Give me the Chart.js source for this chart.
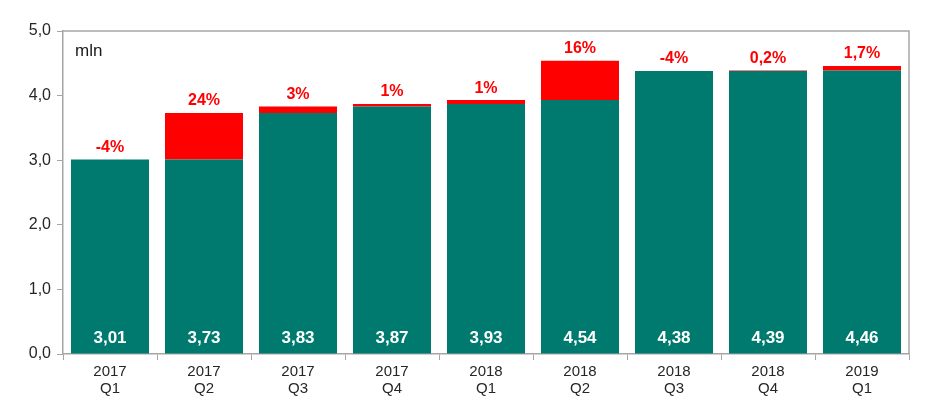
<!DOCTYPE html>
<html><head><meta charset="utf-8">
<script src="https://cdn.jsdelivr.net/npm/chart.js@4/dist/chart.umd.min.js"></script>
<style>html,body{margin:0;padding:0;background:#fff;}#wrap{width:945px;height:410px;}</style>
</head><body><div id="wrap"><canvas id="c" width="945" height="410"></canvas></div>
<script>
const categories = [["2017","Q1"],["2017","Q2"],["2017","Q3"],["2017","Q4"],["2018","Q1"],["2018","Q2"],["2018","Q3"],["2018","Q4"],["2019","Q1"]];
const baseValues = [3.01, 3.01, 3.73, 3.83, 3.87, 3.93, 4.38, 4.38, 4.39];
const increaseValues = [0, 0.72, 0.10, 0.04, 0.06, 0.61, 0, 0.01, 0.07];
const totalLabels = ["3,01","3,73","3,83","3,87","3,93","4,54","4,38","4,39","4,46"];
const changeLabels = ["-4%","24%","3%","1%","1%","16%","-4%","0,2%","1,7%"];
const yTicks = [0,1,2,3,4,5];

const FONT = "'Liberation Sans', Arial, sans-serif";
const GREEN = "#007A6E", RED = "#FF0000", AXIS = "#A6A6A6";

const labelPlugin = {
  id: 'labels',
  beforeDatasetsDraw(chart) {
    const {ctx, chartArea:a} = chart;
    ctx.save();
    ctx.strokeStyle = AXIS; ctx.lineWidth = 1.5;
    ctx.beginPath();
    ctx.moveTo(a.left, a.top); ctx.lineTo(a.right, a.top); ctx.lineTo(a.right, a.bottom);
    ctx.stroke();
    ctx.restore();
  },
  afterDatasetsDraw(chart) {
    const {ctx} = chart;
    const x = chart.scales.x, y = chart.scales.y;
    ctx.save();
    ctx.textAlign = 'center'; ctx.textBaseline = 'middle';
    categories.forEach((c, i) => {
      const cx = x.getPixelForValue(i);
      ctx.fillStyle = '#fff';
      ctx.font = "bold 17px " + FONT;
      ctx.fillText(totalLabels[i], cx, y.getPixelForValue(0) - 16);
      const top = y.getPixelForValue(baseValues[i] + increaseValues[i]);
      ctx.fillStyle = RED;
      ctx.font = "bold 16px " + FONT;
      ctx.fillText(changeLabels[i], cx, top - 12);
    });
    ctx.fillStyle = '#1a1a1a';
    ctx.font = "17px " + FONT;
    ctx.textAlign = 'left';
    ctx.fillText('mln', chart.chartArea.left + 12, chart.chartArea.top + 20);
    ctx.restore();
  }
};

new Chart(document.getElementById('c'), {
  type: 'bar',
  data: {
    labels: categories,
    datasets: [
      {data: baseValues, backgroundColor: GREEN, barPercentage: 0.83, categoryPercentage: 1.0},
      {data: increaseValues, backgroundColor: RED, barPercentage: 0.83, categoryPercentage: 1.0}
    ]
  },
  options: {
    responsive: false,
    animation: false,
    devicePixelRatio: 1,
    layout: {padding: {left: 0, right: 36, top: 31, bottom: 0}},
    plugins: {legend: {display: false}, tooltip: {enabled: false}},
    scales: {
      x: {
        stacked: true,
        afterFit(s) { s.height = 56; },
        border: {color: AXIS, width: 1.5},
        grid: {offset: true, drawOnChartArea: false, drawTicks: true, tickLength: 6, color: AXIS},
        ticks: {color: '#262626', font: {family: FONT, size: 15, lineHeight: 1.15}, padding: 3, maxRotation: 0}
      },
      y: {
        stacked: true,
        min: 0, max: 5,
        afterFit(s) { s.width = 63; },
        afterBuildTicks(s) { s.ticks = yTicks.map(v => ({value: v})); },
        border: {color: AXIS, width: 1.5},
        grid: {drawOnChartArea: false, drawTicks: true, tickLength: 6, color: AXIS},
        ticks: {color: '#262626', font: {family: FONT, size: 16}, padding: 6,
          callback: v => v.toFixed(1).replace('.', ',')}
      }
    }
  },
  plugins: [labelPlugin]
});
</script></body></html>
